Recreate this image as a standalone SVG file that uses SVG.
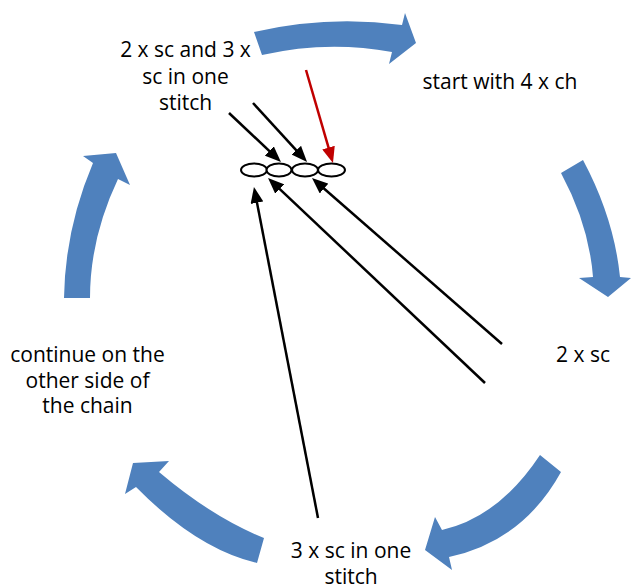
<svg xmlns="http://www.w3.org/2000/svg" width="631" height="587" viewBox="0 0 631 587">
<defs>
<style>
.t{font-family:"Open Sans","Liberation Sans",sans-serif;font-size:21px;fill:#000;text-anchor:middle}
.blue{fill:#4f81bd}
.ln{stroke:#000;stroke-width:2.5;fill:none}
.red{stroke:#c00000;stroke-width:2.5;fill:none}
.ch{fill:#fff;stroke:#000;stroke-width:2}
</style>
<marker id="ah" markerUnits="userSpaceOnUse" markerWidth="16" markerHeight="13" refX="10" refY="6.5" orient="auto">
<path d="M0,0 L16,6.5 L0,13 z" fill="#000"/>
</marker>
<marker id="ahr" markerUnits="userSpaceOnUse" markerWidth="16" markerHeight="13" refX="10" refY="6.5" orient="auto">
<path d="M0,0 L16,6.5 L0,13 z" fill="#c00000"/>
</marker>
</defs>
<rect width="631" height="587" fill="#fff"/>
<g id="cycle-arrows">
<path id="arrow-top" class="blue" d="M254,32 Q328,15 402,25 L405,13 L416,43 L389,64 L392,52 Q327,40 262,55 Z"/>
<path id="arrow-right" class="blue" d="M583,160 Q614,218 620,277 L631,278 L608,297 L579,278 L593,277 Q589,225 561,173 Z"/>
<path id="arrow-bottom-right" class="blue" d="M561,472 Q523,541 449,557 L452,570 L425,550 L435,517 L442,530 Q499,517 540,455 Z"/>
<path id="arrow-bottom-left" class="blue" d="M257,563 Q197,549 136,487 L125,494 L133,463 L169,461 L159,472 Q212,517 264,538 Z"/>
<path id="arrow-left" class="blue" d="M64,298 Q65,229 93,163 L83,156 L116,153 L130,185 L118,179 Q90,238 90,298 Z"/>
</g>
<g id="chain">
<ellipse class="ch" cx="254" cy="170" rx="13" ry="6.5"/>
<ellipse class="ch" cx="279" cy="170" rx="12.5" ry="6.5"/>
<ellipse class="ch" cx="305" cy="170" rx="13" ry="6.5"/>
<ellipse class="ch" cx="331.5" cy="170" rx="13.5" ry="6.5"/>
</g>
<g id="connectors">
<line class="ln" x1="229" y1="113" x2="276.6" y2="157.9" marker-end="url(#ah)"/>
<line class="ln" x1="253" y1="103" x2="303" y2="157.6" marker-end="url(#ah)"/>
<line class="red" x1="306" y1="70" x2="331.3" y2="157.2" marker-end="url(#ahr)"/>
<line class="ln" x1="502" y1="344" x2="316.5" y2="182" marker-end="url(#ah)"/>
<line class="ln" x1="485" y1="383" x2="272.4" y2="182.1" marker-end="url(#ah)"/>
<line class="ln" x1="318" y1="518" x2="255.1" y2="192.9" marker-end="url(#ah)"/>
</g>
<g id="label-top-left">
<text class="t" x="185.5" y="57">2 x sc and 3 x</text>
<text class="t" x="185.5" y="83.5">sc in one</text>
<text class="t" x="185.5" y="110">stitch</text>
</g>
<g id="label-start">
<text class="t" x="500" y="89">start with 4 x ch</text>
</g>
<g id="label-2sc">
<text class="t" x="583" y="362">2 x sc</text>
</g>
<g id="label-bottom">
<text class="t" x="351" y="558">3 x sc in one</text>
<text class="t" x="351" y="584">stitch</text>
</g>
<g id="label-left">
<text class="t" x="87.5" y="362">continue on the</text>
<text class="t" x="87.5" y="388">other side of</text>
<text class="t" x="87.5" y="413">the chain</text>
</g>
</svg>
